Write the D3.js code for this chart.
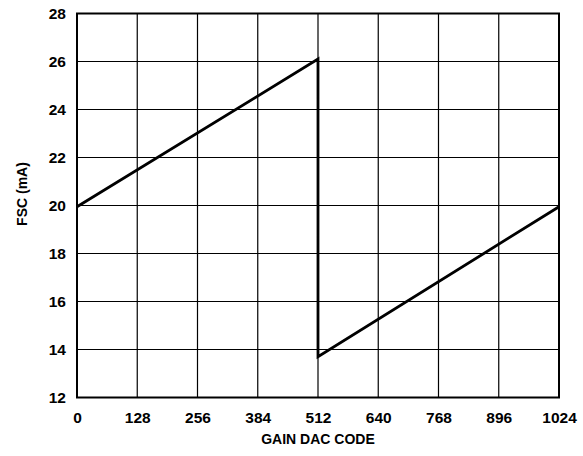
<!DOCTYPE html>
<html><head><meta charset="utf-8">
<script src="https://cdn.jsdelivr.net/npm/d3@7"></script>
<style>body{margin:0;background:#fff}svg{display:block}text{font-family:"Liberation Sans",Arial,sans-serif;font-weight:bold;fill:#000}</style>
</head><body><svg id="c" width="583" height="456"></svg>
<script>
const xTicks = [0,128,256,384,512,640,768,896,1024];
const yTicks = [12,14,16,18,20,22,24,26,28];
const codes = [0,512,512,1024];
const fsc = [19.95,26.1,13.7,19.95];
const xTitle = "GAIN DAC CODE";
const yTitle = "FSC (mA)";

const svg = d3.select("#c");
const L=77,R=559,T=13.5,B=397.5;
const x = d3.scaleLinear().domain([0,1024]).range([L,R]);
const y = d3.scaleLinear().domain([12,28]).range([B,T]);

const g = svg.append("g");
g.selectAll("line.v").data(xTicks).join("line")
  .attr("x1",d=>x(d)).attr("x2",d=>x(d)).attr("y1",T).attr("y2",B)
  .attr("stroke","#000").attr("stroke-width",1.2);
g.selectAll("line.h").data(yTicks).join("line")
  .attr("y1",d=>y(d)).attr("y2",d=>y(d)).attr("x1",L).attr("x2",R)
  .attr("stroke","#000").attr("stroke-width",1.2);
g.append("rect").attr("x",L).attr("y",T).attr("width",R-L).attr("height",B-T)
  .attr("fill","none").attr("stroke","#000").attr("stroke-width",2);

const xa = svg.append("g").attr("transform",`translate(0,${B})`)
  .call(d3.axisBottom(x).tickValues(xTicks).tickFormat(d3.format("d")).tickSize(0).tickPadding(14.5));
const ya = svg.append("g").attr("transform",`translate(${L},0)`)
  .call(d3.axisLeft(y).tickValues(yTicks).tickFormat(d3.format("d")).tickSize(0).tickPadding(11));
[xa,ya].forEach(a=>{a.select(".domain").remove();a.attr("font-size",null).attr("font-family",null);a.selectAll("text").style("font-size","15.5px").style("font-family","'Liberation Sans',Arial,sans-serif").style("font-weight","bold").style("fill","#000");});

const pts = codes.map((c,i)=>[c,fsc[i]]);
svg.append("path").datum(pts)
  .attr("d",d3.line().x(d=>x(d[0])).y(d=>y(d[1])))
  .attr("fill","none").attr("stroke","#000").attr("stroke-width",2.8).attr("stroke-linejoin","miter");

svg.append("text").attr("x",(L+R)/2).attr("y",444).attr("text-anchor","middle").style("font-size","14px").text(xTitle);
svg.append("text").attr("transform",`translate(27,194) rotate(-90)`).attr("text-anchor","middle").style("font-size","14px").text(yTitle);
</script></body></html>
